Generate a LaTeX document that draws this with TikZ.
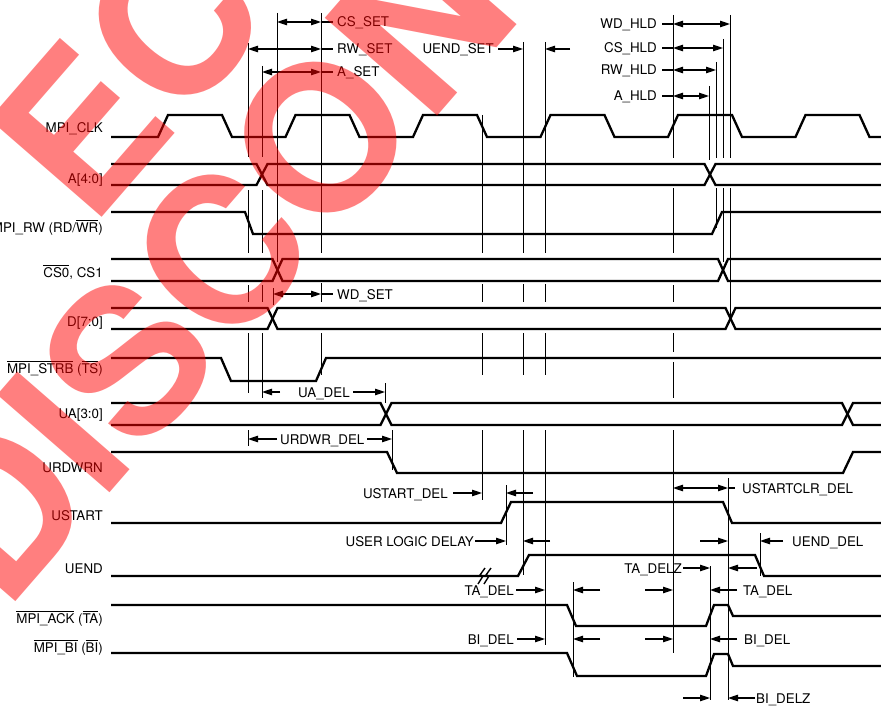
\documentclass[tikz,border=0pt]{standalone}
\usepackage{fontspec}
\setmainfont{TeX Gyre Heros}
\usetikzlibrary{arrows.meta}
\newcommand\ovl[1]{\leavevmode\vbox{\hrule height 0.8pt\kern 1.3pt\hbox{#1}}}
\begin{document}
\begin{tikzpicture}[x=1bp,y=-1bp,font=\fontsize{13.4}{16}\selectfont,
  >={Triangle[length=10bp,width=6.5bp]},
  wave/.style={line width=2.3bp},
  guide/.style={line width=0.9bp},
  dim/.style={line width=1.1bp,<->},
  rar/.style={line width=1.1bp,->},
  con/.style={line width=1.1bp},
  lab/.style={inner sep=0pt,anchor=base west},
  labr/.style={inner sep=0pt,anchor=base east},
  wm/.style={inner sep=0pt,anchor=base west,rotate=49,text=red,text opacity=0.5,
    font=\fontsize{205}{205}\selectfont\bfseries}]
\useasboundingbox (0,0) rectangle (881,707);

% ---------- signal names
\node[labr] (nclk) at (103,133) {MPI\_CLK};
\node[labr] (na) at (103,183) {A[4:0]};
\node[labr] (nrw) at (103,232) {MPI\_RW (RD/\ovl{WR})};
\node[labr] (ncs) at (103,277) {\ovl{CS0}, CS1};
\node[labr] (nd) at (103,326) {D[7:0]};
\node[labr] (nstrb) at (103,373) {\ovl{MPI\_STRB} (\ovl{TS})};
\node[labr] (nua) at (103,418) {UA[3:0]};
\node[labr] (nurd) at (103,472) {URDWRN};
\node[labr] (nus) at (103,520) {USTART};
\node[labr] (nue) at (103,573) {UEND};
\node[labr] (nack) at (103,623) {\ovl{MPI\_ACK} (\ovl{TA})};
\node[labr] (nbi) at (103,652) {\ovl{MPI\_BI} (\ovl{BI})};

% ---------- waveforms
\draw[wave] (111,137) \foreach \r in {158,285.5,413,540.5,668,795.5}
  { -- (\r,137) -- (\r+10,115) -- (\r+64,115) -- (\r+74,137)} -- (881,137);
% A[4:0]
\draw[wave] (111,164) -- (256.5,164) -- (267.5,185) -- (704.5,185) -- (715.5,164) -- (881,164);
\draw[wave] (111,185) -- (256.5,185) -- (267.5,164) -- (704.5,164) -- (715.5,185) -- (881,185);
% MPI_RW
\draw[wave] (111,212) -- (245,212) -- (253,234) -- (712,234) -- (722,212) -- (881,212);
% CS
\draw[wave] (111,259) -- (272.5,259) -- (282.5,281) -- (718,281) -- (728,259) -- (881,259);
\draw[wave] (111,281) -- (272.5,281) -- (282.5,259) -- (718,259) -- (728,281) -- (881,281);
% D
\draw[wave] (111,308) -- (267.5,308) -- (277.5,329) -- (725.5,329) -- (735.5,308) -- (881,308);
\draw[wave] (111,329) -- (267.5,329) -- (277.5,308) -- (725.5,308) -- (735.5,329) -- (881,329);
% STRB
\draw[wave] (111,358) -- (221,358) -- (231,381) -- (316,381) -- (326,358) -- (881,358);
% UA
\draw[wave] (111,403) -- (380.5,403) -- (391.5,425) -- (842,425) -- (853,403) -- (881,403);
\draw[wave] (111,425) -- (380.5,425) -- (391.5,403) -- (842,403) -- (853,425) -- (881,425);
% URDWRN
\draw[wave] (111,452) -- (387,452) -- (397,473) -- (843,473) -- (853,452) -- (881,452);
% USTART
\draw[wave] (111,523) -- (501,523) -- (511,502) -- (723,502) -- (732,523) -- (881,523);
% UEND
\draw[wave] (111,576) -- (518,576) -- (529,555) -- (755,555) -- (764,576) -- (881,576);
\draw[line width=1.4bp] (478,584) -- (483,576) -- (480,575) -- (485,568);
\draw[line width=1.4bp] (484,584) -- (489,576) -- (486,575) -- (491,568);
% ACK
\draw[wave] (111,605) -- (567,605) -- (576,626) -- (706,626) -- (714,605) -- (728,605) -- (733,616) -- (881,616);
% BI
\draw[wave] (111,653) -- (567,653) -- (577,676) -- (706,676) -- (714,654) -- (728,654) -- (733,666) -- (881,666);

% ---------- guide lines
\foreach \a/\b in {43/157,190/253,285/302,333/393,430/446} \draw[guide] (248,\a) -- (248,\b);
\foreach \a/\b in {66/157,190/253,285/302,333/398} \draw[guide] (262,\a) -- (262,\b);
\draw[guide] (277,13) -- (277,262);
\draw[guide] (273,288) -- (273,305);
\foreach \a/\b in {13/253,283/302,333/375} \draw[guide] (321,\a) -- (321,\b);
\draw[guide] (385,383) -- (385,403);
\draw[guide] (392,430) -- (392,470);
\foreach \a/\b in {115/253,284/302,333/375,430/500} \draw[guide] (482,\a) -- (482,\b);
\foreach \a/\b in {42/253,284/302,333/375,430/575} \draw[guide] (523,\a) -- (523,\b);
\foreach \a/\b in {42/253,284/302,333/375,430/645} \draw[guide] (545,\a) -- (545,\b);
\draw[guide] (506,485) -- (506,545);
\draw[guide] (573,582) -- (573,677);
\foreach \a/\b in {15/158,188/253,285/302,333/352,362/398,430/653} \draw[guide] (673,\a) -- (673,\b);
\draw[guide] (709,86) -- (709,160);
\foreach \a/\b in {62/158,188/228} \draw[guide] (716,\a) -- (716,\b);
\foreach \a/\b in {39/158,188/262} \draw[guide] (723,\a) -- (723,\b);
\foreach \a/\b in {15/158,188/318} \draw[guide] (730,\a) -- (730,\b);
\draw[guide] (728,478) -- (728,700);
\draw[guide] (710,566) -- (710,700);
\draw[guide] (760,533) -- (760,576);

% ---------- timing parameters (top left)
\draw[dim] (277,22) -- (321,22); \draw[con] (321,22) -- (333,22);
\node[lab] (tcs) at (337,27) {CS\_SET};
\draw[dim] (248,49) -- (321,49); \draw[con] (321,49) -- (333,49);
\node[lab] (trw) at (337,54) {RW\_SET};
\draw[dim] (262,72) -- (321,72); \draw[con] (321,72) -- (333,72);
\node[lab] (ta) at (337,77) {A\_SET};
\node[labr] (tue) at (494,54) {UEND\_SET};
\draw[rar] (498,49) -- (523,49);
\draw[rar] (570,49) -- (545,49);

% ---------- timing parameters (top right)
\node[labr] (twdh) at (657,29) {WD\_HLD};
\draw[con] (662,24) -- (673,24); \draw[dim] (673,24) -- (730,24);
\node[labr] (tcsh) at (657,53) {CS\_HLD};
\draw[con] (662,48) -- (673,48); \draw[dim] (673,48) -- (723,48);
\node[labr] (trwh) at (657,75) {RW\_HLD};
\draw[con] (662,70) -- (673,70); \draw[dim] (673,70) -- (716,70);
\node[labr] (tah) at (657,101) {A\_HLD};
\draw[con] (662,96) -- (673,96); \draw[dim] (673,96) -- (709,96);

% ---------- middle
\draw[dim] (273,294) -- (321,294); \draw[con] (321,294) -- (333,294);
\node[lab] (twd) at (337,299) {WD\_SET};
\draw[rar] (280,392) -- (262,392);
\node[lab] (tua) at (298,397) {UA\_DEL};
\draw[rar] (353,392) -- (385,392);
\draw[rar] (277,439) -- (248,439);
\node[lab] (turd) at (280,444) {URDWR\_DEL};
\draw[rar] (367,439) -- (392,439);

% ---------- lower
\node[labr] (tusd) at (448,498) {USTART\_DEL};
\draw[rar] (453,493) -- (482,493);
\draw[rar] (533,493) -- (506,493);
\draw[dim] (673,488) -- (728,488); \draw[con] (728,488) -- (735,488);
\node[lab] (tuclr) at (742,493) {USTARTCLR\_DEL};
\node[labr] (tuld) at (474,546) {USER LOGIC DELAY};
\draw[rar] (475,541) -- (506,541);
\draw[rar] (550,541) -- (523,541);
\draw[rar] (700,541) -- (728,541);
\draw[rar] (783,541) -- (760,541);
\node[lab] (tued) at (792,546) {UEND\_DEL};
\node[labr] (ttaz) at (682,573) {TA\_DELZ};
\draw[rar] (683,568) -- (710,568);
\draw[rar] (757,568) -- (728,568);
\node[labr] (tta1) at (514,595) {TA\_DEL};
\draw[rar] (516,590) -- (545,590);
\draw[rar] (600,590) -- (573,590);
\draw[rar] (645,590) -- (673,590);
\draw[rar] (737,590) -- (710,590);
\node[lab] (tta2) at (743,595) {TA\_DEL};
\node[labr] (tbi1) at (514,644) {BI\_DEL};
\draw[rar] (517,639) -- (545,639);
\draw[rar] (600,639) -- (573,639);
\draw[rar] (645,639) -- (673,639);
\draw[rar] (737,639) -- (710,639);
\node[lab] (tbi2) at (744,644) {BI\_DEL};
\draw[rar] (683,698) -- (710,698);
\draw[rar] (755,698) -- (728,698);
\node[lab] (tbiz) at (756,703) {BI\_DELZ};

% ---------- watermark
\begin{scope}
\clip (0,0) rectangle (881,707);
\node[wm] (wm1) at (5,614) {DISCONTINUED};
\node[wm] (wm2) at (91,230) {EC};
\end{scope}
\end{tikzpicture}
\end{document}
